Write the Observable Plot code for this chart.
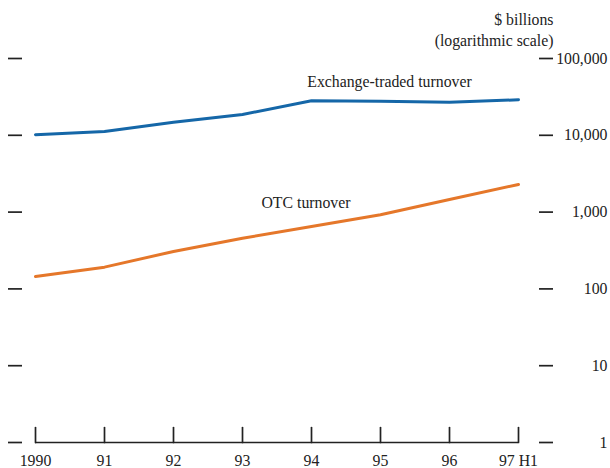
<!DOCTYPE html>
<html>
<head>
<meta charset="utf-8">
<script src="https://cdn.jsdelivr.net/npm/d3@7"></script>
<script src="https://cdn.jsdelivr.net/npm/@observablehq/plot@0.6"></script>
<style>
  html, body { margin: 0; padding: 0; background: #fff; }
  #chart svg { display: block; }
</style>
</head>
<body>
<div id="chart"></div>
<script>
const years = [1990, 1991, 1992, 1993, 1994, 1995, 1996, 1997];
const yearLabels = ["1990", "91", "92", "93", "94", "95", "96", "97 H1"];
const exchangeTraded = [10200, 11200, 14800, 18700, 28100, 27800, 27000, 29000];
const otc = [145, 192, 307, 457, 650, 925, 1460, 2290];
const yTicks = [1, 10, 100, 1000, 10000, 100000];
const seriesNames = ["Exchange-traded turnover", "OTC turnover"];
const labelYears = [1995.13, 1993.92];
const labelValues = [50000, 1330];
const titleLine1 = "$ billions";
const titleLine2 = "(logarithmic scale)";

const rows = [];
years.forEach((yr, i) => {
  rows.push({year: yr, value: exchangeTraded[i], series: seriesNames[0]});
  rows.push({year: yr, value: otc[i], series: seriesNames[1]});
});
const labels = seriesNames.map((s, i) => ({text: s, year: labelYears[i], value: labelValues[i]}));

const font = "'Liberation Serif', 'Times New Roman', serif";
const ink = "#222";
const fs = 15.8;
const tickShape = {draw(context, l) { context.moveTo(0, 0); context.lineTo(0, -l); }};

const chart = Plot.plot({
  width: 610,
  height: 468,
  marginTop: 58,
  marginBottom: 26,
  marginLeft: 35,
  marginRight: 92,
  style: {fontFamily: font, fontSize: fs + "px", color: ink, background: "#fff"},
  x: {domain: [1990, 1997]},
  y: {type: "log", domain: [1, 100000]},
  color: {domain: seriesNames, range: ["#1567a8", "#e5772a"]},
  marks: [
    Plot.axisY(yTicks, {anchor: "left", tickSize: 14, dx: -13, text: null, label: null, stroke: ink, strokeWidth: 1.7}),
    Plot.axisY(yTicks, {anchor: "right", tickSize: 14, dx: 20, text: null, label: null, stroke: ink, strokeWidth: 1.7}),
    Plot.text(yTicks, {y: d => d, frameAnchor: "right", textAnchor: "end", dx: 89, text: d => d3.format(",")(d), fill: ink, fontSize: fs}),
    Plot.axisX(years, {tickSize: 0, tickPadding: 12, tickFormat: (d, i) => yearLabels[i], label: null, fill: ink, fontSize: fs}),
    Plot.ruleY([1], {stroke: ink, strokeWidth: 1.7}),
    Plot.vector(years, {x: d => d, frameAnchor: "bottom", length: 15, rotate: 0, anchor: "start", shape: tickShape, stroke: ink, strokeWidth: 1.7}),
    Plot.line(rows, {x: "year", y: "value", z: "series", stroke: "series", strokeWidth: 3}),
    Plot.text(labels, {x: "year", y: "value", text: "text", fill: ink, fontSize: fs}),
    Plot.text([titleLine1], {frameAnchor: "top-right", textAnchor: "end", dx: 35, dy: -45, text: d => d, fill: ink, fontSize: fs}),
    Plot.text([titleLine2], {frameAnchor: "top-right", textAnchor: "end", dx: 35, dy: -24, text: d => d, fill: ink, fontSize: fs})
  ]
});
document.getElementById("chart").appendChild(chart);
</script>
</body>
</html>
